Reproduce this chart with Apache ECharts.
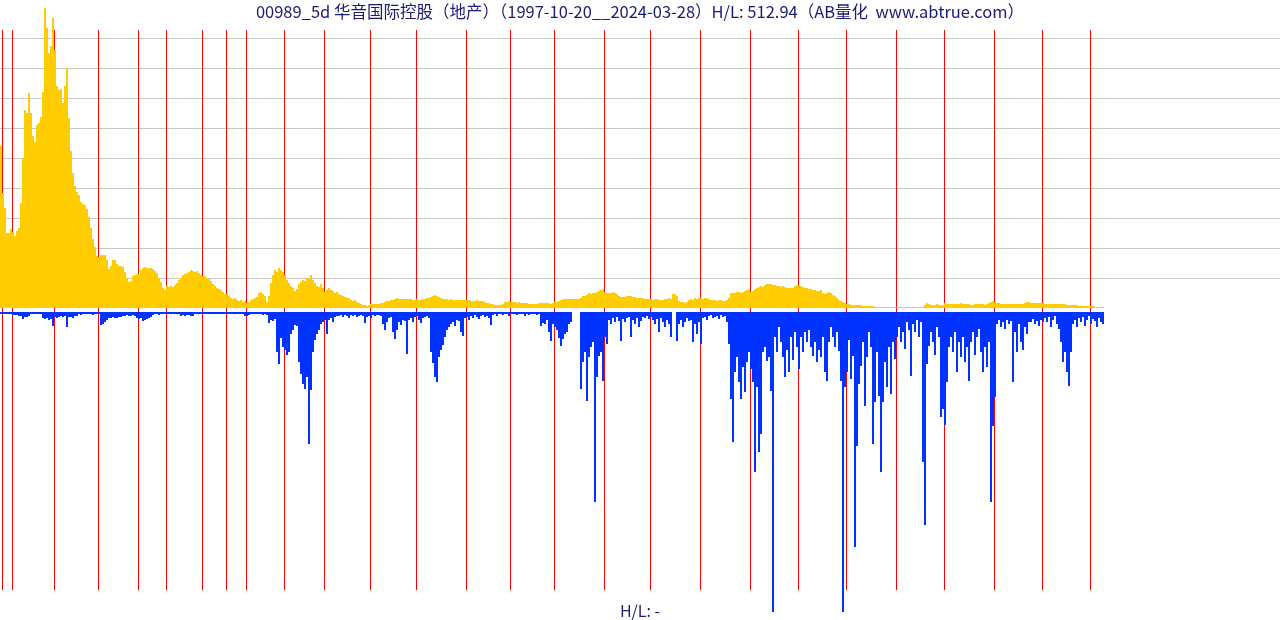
<!DOCTYPE html>
<html>
<head>
<meta charset="utf-8">
<script src="https://cdn.jsdelivr.net/npm/echarts@6/dist/echarts.min.js"></script>
<style>
html,body{margin:0;padding:0;background:#fff;}
#chart{width:1280px;height:620px;}
</style>
</head>
<body>
<div id="chart"></div>
<script>
// Title texts
const titleText = '00989_5d 华音国际控股（地产）（1997-10-20__2024-03-28）H/L: 512.94（AB量化  www.abtrue.com）';
const footText = 'H/L: -';

// Year boundaries (index of the first two-week slot of each year)
const years = [1998,1999,2000,2001,2002,2003,2004,2005,2006,2007,2008,2009,2010,2011,2012,2013,2014,2015,2016,2017,2018,2019,2020,2021,2022,2023,2024];
const yearStartSlot = [1,6,27,49,69,83,101,113,123,142,162,185,208,233,255,277,302,325,350,375,399,423,448,472,497,521,545];

// Upper series (price level, one value per two weeks)
const priceLevel = [
162,115,100,75,75,79,76,72,77,80,
105,150,198,195,215,195,172,166,183,185,
191,216,300,280,255,262,290,258,222,218,
219,205,222,240,190,157,135,122,116,113,
106,104,103,99,91,80,69,61,52,51,
53,53,53,48,39,42,48,48,44,42,
42,41,36,30,26,27,32,33,34,34,
38,40,41,40,40,40,39,37,35,30,
26,20,18,22,21,22,21,23,25,28,
30,33,34,35,36,38,37,36,37,35,
33,32,32,30,29,27,24,22,20,19,
18,16,14,14,12,10,9,10,8,7,
8,6,7,5,6,8,9,10,11,15,
16,14,12,6,12,25,33,38,36,40,
38,36,33,28,25,22,20,17,19,24,
26,28,27,30,29,33,28,25,22,21,
24,20,16,18,20,18,17,15,16,14,
13,12,11,10,10,8,7,8,6,5,
4,3,3,2,3,4,4,4,4,4,
5,5,6,7,7,8,8,9,10,9,
9,9,9,9,9,9,8,8,9,8,
8,9,9,10,10,11,12,13,12,11,
10,9,9,9,8,9,8,8,8,8,
8,8,8,8,8,7,7,7,8,7,
7,7,6,5,5,4,4,3,3,3,
3,4,6,6,7,6,6,6,5,6,
5,5,5,5,4,4,4,4,4,5,
5,5,5,5,5,4,5,6,6,7,
8,9,9,9,9,9,9,9,9,9,
10,12,12,13,15,14,15,15,16,17,
18,19,16,15,15,15,16,15,14,12,
11,11,11,12,12,12,11,11,10,10,
10,10,9,9,9,9,8,9,9,8,
8,8,9,9,10,9,14,14,12,7,
6,6,5,6,8,9,8,10,9,10,
10,9,10,10,9,8,8,8,7,8,
8,7,7,8,10,15,15,15,16,16,
15,16,17,18,18,16,17,19,20,21,
22,21,23,24,24,24,23,23,22,22,
21,22,21,20,20,20,20,22,23,23,
22,21,20,20,19,19,18,18,17,17,
18,15,14,15,16,15,13,12,10,8,
7,6,5,4,4,3,3,3,3,3,
3,2,2,2,2,2,2,1,1,1,
1,1,1,1,1,1,1,1,1,1,
1,1,1,1,1,1,1,1,1,1,
1,1,3,5,4,3,3,3,4,3,
3,3,5,4,4,4,4,4,4,4,
5,4,4,4,4,3,3,4,4,4,
4,4,3,4,5,6,7,6,5,5,
4,4,4,4,4,4,4,4,4,4,
4,4,5,6,6,5,5,5,5,5,
5,5,4,4,4,4,4,4,4,4,
4,4,4,3,3,3,3,3,3,2,
2,2,2,2,2,2,2,1,1,1,
1,1
];

// Lower series (drawdown depth, one value per two weeks)
const drawdown = [
2,2,2,2,2,2,3,3,3,4,
4,7,5,5,4,2,2,2,2,2,
2,6,7,6,8,7,14,5,6,5,
4,5,4,15,5,5,6,4,4,2,
3,2,2,2,2,2,3,2,2,2,
13,12,10,8,6,6,5,6,6,5,
5,4,4,3,4,4,3,4,6,7,
6,9,8,7,6,5,3,2,2,3,
2,2,2,2,2,2,2,2,2,2,
4,3,4,3,3,4,4,2,2,2,
2,2,2,2,2,2,2,2,2,2,
2,2,2,2,2,2,2,2,2,2,
2,2,4,4,3,2,2,2,2,2,
2,3,2,3,11,8,9,7,40,52,
26,35,38,43,40,22,18,13,14,50,
62,72,77,65,132,78,40,28,22,18,
12,10,8,22,8,6,10,5,4,4,
3,5,3,4,6,3,4,3,5,4,
3,4,11,5,4,6,3,4,3,3,
4,12,18,10,6,5,20,27,18,10,
13,8,9,42,8,6,10,5,4,8,
11,6,5,4,6,40,51,65,70,45,
38,33,25,18,15,12,10,14,8,9,
20,24,6,5,8,4,6,3,5,7,
4,3,5,4,6,13,3,2,4,2,
2,3,2,2,4,2,2,2,3,2,
2,2,4,2,3,2,2,2,3,2,
14,11,12,8,20,29,12,15,18,26,
34,27,22,20,12,10,0,0,0,0,
77,50,40,89,45,35,30,190,65,44,
40,69,25,32,8,12,6,10,5,9,
29,7,10,6,5,25,8,12,6,15,
9,5,6,4,7,5,8,12,7,20,
6,10,15,8,12,25,0,0,29,12,
8,15,10,6,9,8,30,12,22,10,
32,6,5,8,4,3,6,5,4,7,
3,5,4,10,32,87,130,60,45,70,
87,55,80,50,40,57,70,160,75,140,
122,40,35,49,45,79,300,25,40,15,
30,45,65,38,60,25,48,20,35,57,
25,40,20,30,18,35,44,30,50,38,
45,25,60,69,30,15,25,35,20,39,
69,300,75,60,28,67,44,235,134,72,
54,30,94,45,20,35,132,90,40,84,
160,90,50,75,35,82,30,47,25,15,
30,20,37,10,18,64,12,20,8,25,
10,150,213,52,34,20,30,43,15,25,
105,97,113,70,35,25,40,20,60,30,
45,25,50,35,69,30,20,43,25,17,
40,60,35,55,30,190,114,85,12,8,
15,10,17,8,12,9,70,20,40,12,
30,38,15,22,10,10,7,12,9,14,
8,10,6,10,5,15,8,4,12,17,
30,50,40,60,74,40,12,8,15,6,
10,5,14,8,4,12,7,9,15,6,
10,12
];

const slotCount = 640;   // two-week slots across the full width
const slots = Array.from({length: slotCount}, (_, i) => String(i));
const yearSet = new Set(yearStartSlot);

const chart = echarts.init(document.getElementById('chart'), null, {renderer: 'canvas'});
const fontFam = '"Noto Sans CJK SC","Noto Sans",sans-serif';
chart.setOption({
  animation: false,
  backgroundColor: '#ffffff',
  title: [
    {text: titleText, left: 'center', top: -2,
     textStyle: {fontSize: 16.5, fontWeight: 'normal', color: '#1c1c72', fontFamily: fontFam}},
    {text: footText, left: 'center', top: 598,
     textStyle: {fontSize: 16, fontWeight: 'normal', color: '#1c1c72', fontFamily: fontFam}}
  ],
  grid: [
    {left: 0, right: 0, top: 38, height: 270},
    {left: 0, right: 0, top: 312, height: 300},
    {left: 0, right: 0, top: 30, height: 560}
  ],
  xAxis: [
    {type: 'category', gridIndex: 0, data: slots, show: false},
    {type: 'category', gridIndex: 1, data: slots, show: false},
    {type: 'category', gridIndex: 2, data: slots, show: true, z: 1,
     axisLine: {show: false}, axisTick: {show: false}, axisLabel: {show: false},
     splitLine: {show: true, interval: (idx) => yearSet.has(idx),
                 lineStyle: {color: '#ff0000', width: 1}}}
  ],
  yAxis: [
    {type: 'value', gridIndex: 0, min: 0, max: 270, interval: 30,
     axisLine: {show: false}, axisTick: {show: false}, axisLabel: {show: false},
     splitLine: {show: true, showMinLine: false, lineStyle: {color: '#c8c8c8', width: 1}}},
    {type: 'value', gridIndex: 1, min: 0, max: 300, inverse: true, show: false,
     splitLine: {show: false}},
    {type: 'value', gridIndex: 2, min: 0, max: 1, show: false, splitLine: {show: false}}
  ],
  series: [
    {name: 'price', type: 'bar', xAxisIndex: 0, yAxisIndex: 0, data: priceLevel,
     barCategoryGap: '0%', itemStyle: {color: '#ffcc00'}, clip: false, z: 2, silent: true},
    {name: 'drawdown', type: 'bar', xAxisIndex: 1, yAxisIndex: 1, data: drawdown,
     barCategoryGap: '0%', itemStyle: {color: '#0033ff'}, z: 2, silent: true}
  ]
});
</script>
</body>
</html>
